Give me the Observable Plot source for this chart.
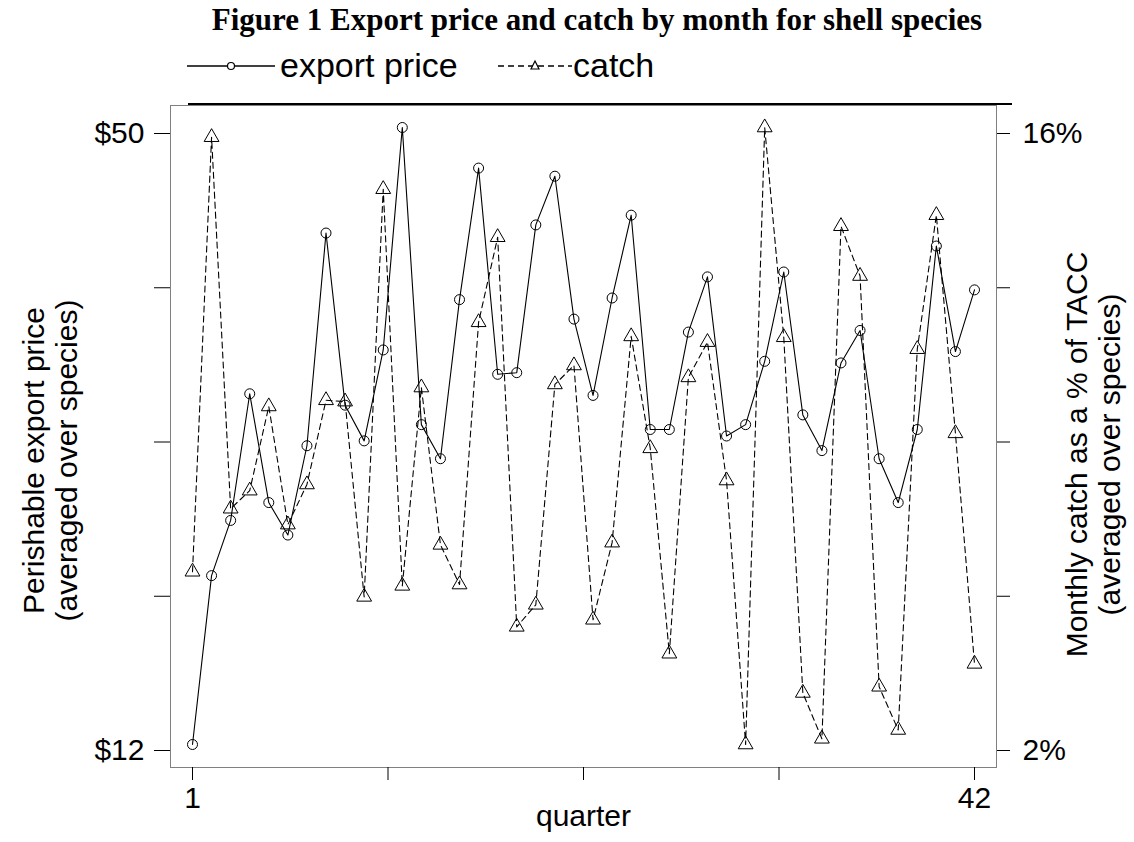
<!DOCTYPE html>
<html><head><meta charset="utf-8">
<script src="https://cdn.jsdelivr.net/npm/d3@7"></script>
<script src="https://cdn.jsdelivr.net/npm/@observablehq/plot@0.6"></script>
<style>
body{margin:0;background:#fff;}
#wrap{position:relative;width:1134px;height:842px;font-family:"Liberation Sans",Arial,sans-serif;color:#000;}
#title{position:absolute;left:597px;top:2px;transform:translateX(-50%);white-space:nowrap;font-family:"Liberation Serif","Times New Roman",serif;font-weight:bold;font-size:31px;}
.lg{position:absolute;white-space:nowrap;font-size:34px;line-height:34px;}
#rule{position:absolute;left:188px;width:824px;top:103px;height:0;border-top:2.5px solid #000;}
#chart{position:absolute;left:0;top:0;}
</style></head><body>
<div id="wrap">
  <div id="chart"></div>
  <div id="title">Figure 1 Export price and catch by month for shell species</div>
  <svg class="lg" style="left:187px;top:56px" width="90" height="20"><line x1="0" y1="10" x2="88" y2="10" stroke="#000" stroke-width="1.5"/><circle cx="44" cy="10" r="3.5" fill="#fff" stroke="#000" stroke-width="1.2"/></svg>
  <div class="lg" style="left:280px;top:48px">export price</div>
  <svg class="lg" style="left:498px;top:56px" width="76" height="20"><line x1="0" y1="10" x2="74" y2="10" stroke="#000" stroke-width="1.5" stroke-dasharray="6,4"/><path d="M37,5 L41,13 L33,13 Z" fill="#fff" stroke="#000" stroke-width="1.2"/></svg>
  <div class="lg" style="left:573px;top:48px">catch</div>
  <div id="rule"></div>
</div>
<script>
// ---- data ----
const quarters = [1,2,3,4,5,6,7,8,9,10,11,12,13,14,15,16,17,18,19,20,21,22,23,24,25,26,27,28,29,30,31,32,33,34,35,36,37,38,39,40,41,42];
const exportPrice = [12.0,22.4,25.8,33.6,26.9,24.9,30.4,43.5,32.9,30.7,36.3,50.0,31.7,29.6,39.4,47.5,34.8,34.9,44.0,47.0,38.2,33.5,39.5,44.6,31.4,31.4,37.4,40.8,31.0,31.7,35.6,41.1,32.3,30.1,35.5,37.5,29.6,26.9,31.4,42.7,36.2,40.0];
const catchPct = [5.92,15.78,7.35,7.76,9.67,6.99,7.90,9.81,9.78,5.35,14.60,5.60,10.10,6.53,5.63,11.58,13.51,4.67,5.17,10.17,10.60,4.83,6.58,11.26,8.72,4.06,10.33,11.13,7.99,2.00,16.00,11.24,3.17,2.13,13.76,12.63,3.31,2.33,10.97,14.01,9.06,3.83];
const xTicks = [1, 11.25, 21.5, 31.75, 42];
const xTickLabels = ["1", "", "", "", "42"];
const priceTicks = [12, 21.5, 31, 40.5, 50];
const priceTickLabels = ["$12", "", "", "", "$50"];
const catchTicks = [2, 5.5, 9, 12.5, 16];
const catchTickLabels = ["2%", "", "", "", "16%"];
const priceRange = [12, 50];
const catchRange = [2, 16];

// catch is drawn on the price scale (secondary axis)
const toP = c => priceRange[0] + (c - catchRange[0]) * (priceRange[1] - priceRange[0]) / (catchRange[1] - catchRange[0]);
const priceData = quarters.map((q, i) => ({q, v: exportPrice[i]}));
const catchData = quarters.map((q, i) => ({q, v: toP(catchPct[i])}));
const fmt = (ticks, labels) => d => { const i = ticks.indexOf(d); return i >= 0 ? labels[i] : ""; };
const catchTicksP = catchTicks.map(toP);

const chart = Plot.plot({
  width: 1134, height: 842,
  marginTop: 105, marginBottom: 75, marginLeft: 170, marginRight: 138,
  x: {domain: [1, 42], insetLeft: 22, insetRight: 22},
  y: {domain: priceRange, insetTop: 22, insetBottom: 23},
  style: {fontFamily: "'Liberation Sans', Arial, sans-serif", color: "#000", background: "#fff"},
  marks: [
    Plot.frame({stroke: "#808080"}),
    Plot.axisX({ticks: xTicks, tickFormat: fmt(xTicks, xTickLabels), tickSize: 13, tickPadding: 6, fontSize: 30, label: null}),
    Plot.axisY({anchor: "left", ticks: priceTicks, tickFormat: fmt(priceTicks, priceTickLabels), tickSize: 16, tickPadding: 10, fontSize: 30, dy: 6, label: null}),
    Plot.axisY({anchor: "right", ticks: catchTicksP, tickFormat: fmt(catchTicksP, catchTickLabels), tickSize: 13, tickPadding: 13, fontSize: 30, dy: 6, label: null}),
    Plot.line(priceData, {x: "q", y: "v", stroke: "#000", strokeWidth: 1.1}),
    Plot.line(catchData, {x: "q", y: "v", stroke: "#000", strokeWidth: 1.1, strokeDasharray: "6,4"}),
    Plot.dot(priceData, {x: "q", y: "v", r: 5, stroke: "#000", strokeWidth: 1, fill: "none"}),
    Plot.dot(catchData, {x: "q", y: "v", symbol: "triangle", r: 5.5, stroke: "#000", strokeWidth: 1, fill: "none"}),
    Plot.text(["quarter"], {text: d => d, frameAnchor: "bottom", lineAnchor: "top", dy: 37, fontSize: 30}),
    Plot.text(["Perishable export price\n(averaged over species)"], {text: d => d, frameAnchor: "left", textAnchor: "middle", rotate: -90, dx: -121, dy: 24, fontSize: 30, lineHeight: 1.1}),
    Plot.text(["Monthly catch as a % of TACC\n(averaged over species)"], {text: d => d, frameAnchor: "right", textAnchor: "middle", rotate: -90, dx: 96, dy: 18, fontSize: 30, lineHeight: 1.1})
  ]
});
document.getElementById("chart").append(chart);
</script>
</body></html>
